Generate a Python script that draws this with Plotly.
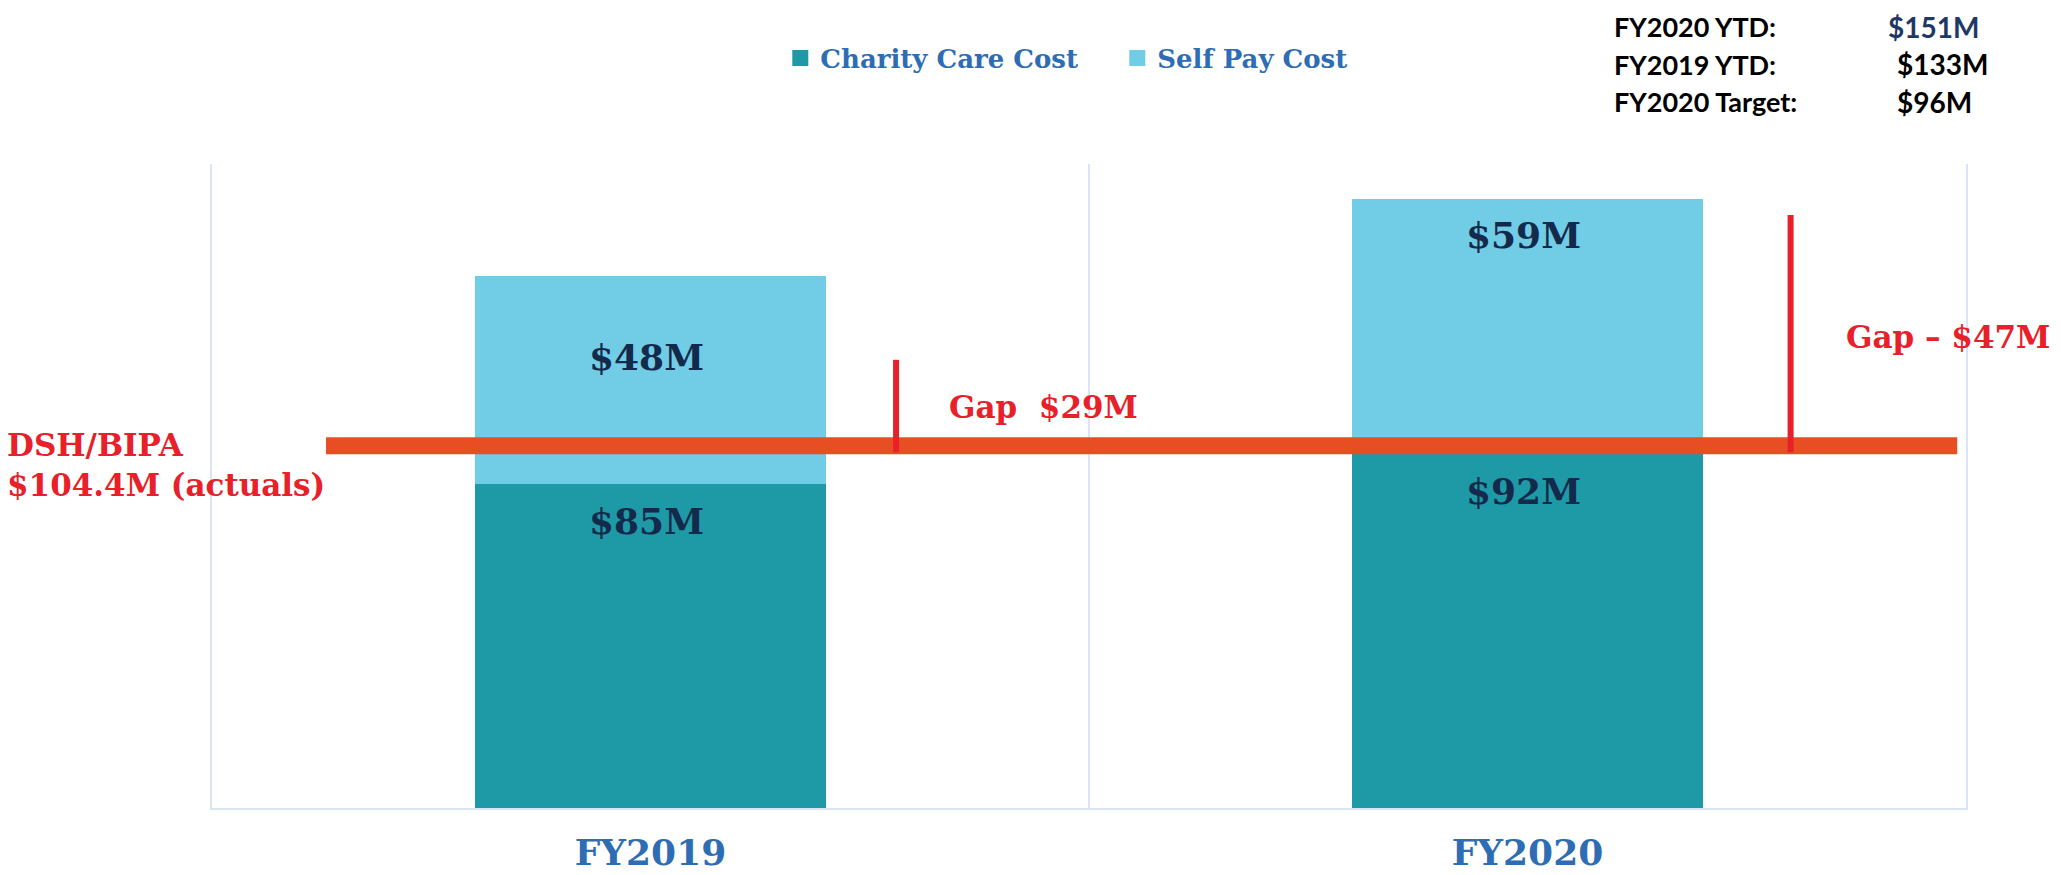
import plotly.graph_objects as go

# values ($M)
years = ["FY2019", "FY2020"]
charity_care = [85, 92]
self_pay = [48, 59]
dsh_bipa_actual = 104.4
dsh_line_level = 93.8          # where the hand-drawn DSH/BIPA line sits on the axis
gap_marker_x = [0.28, 1.30]    # red gap markers (category units)
gap_marker_top = [113.7, 147.2]
fy2020_target = 96

totals = [c + s for c, s in zip(charity_care, self_pay)]
gaps = [round(t - dsh_bipa_actual) for t in totals]

SERIF = "DejaVu Serif"
TEAL = "#1e9aa6"
LIGHT = "#70cde5"
BLUE = "#2e6db4"
NAVY = "#142a4c"
RED = "#e8202a"
ORANGE = "#e84e24"
GRID = "#d9e5f5"

fig = go.Figure()
fig.add_trace(go.Bar(x=years, y=charity_care, name="Charity Care Cost", showlegend=False,
                     marker=dict(color=TEAL, line_width=0)))
fig.add_trace(go.Bar(x=years, y=self_pay, name="Self Pay Cost", showlegend=False,
                     marker=dict(color=LIGHT, line_width=0)))
# legend entries with larger square swatches
for name, col in [("Charity Care Cost", TEAL), ("Self Pay Cost", LIGHT)]:
    fig.add_trace(go.Scatter(x=[None], y=[None], mode="markers", name=name,
                             marker=dict(symbol="square", size=16, color=col)))

# value labels inside the segments
label_drop = {"charity": [37, 37], "self": [81, 36]}
for i, yr in enumerate(years):
    segs = [("charity", 0, charity_care[i]), ("self", charity_care[i], self_pay[i])]
    for key, base, val in segs:
        fig.add_annotation(x=yr, y=base + val, text=f"${val}M", showarrow=False,
                           yanchor="middle", yshift=-label_drop[key][i], xshift=-4,
                           font=dict(family=SERIF, size=36, color=NAVY, weight="bold"))

# DSH/BIPA line and gap markers
fig.add_shape(type="line", xref="x", yref="y", x0=-0.37, x1=1.49,
              y0=dsh_line_level, y1=dsh_line_level,
              line=dict(color=ORANGE, width=17))
for gx, gt in zip(gap_marker_x, gap_marker_top):
    fig.add_shape(type="line", xref="x", yref="y", x0=gx, x1=gx,
                  y0=dsh_line_level - 1.5, y1=gt, line=dict(color=RED, width=6))

red_font = dict(family=SERIF, size=31, color=RED, weight="bold")
fig.add_annotation(x=0.448, y=102.8, xref="x", yref="y", text=f"Gap&nbsp;&nbsp;${gaps[0]}M",
                   showarrow=False, font=red_font)
fig.add_annotation(x=1.479, y=119, xref="x", yref="y", text=f"Gap \u2013 ${gaps[1]}M",
                   showarrow=False, font=red_font)
fig.add_annotation(x=-0.118, xref="paper", y=dsh_line_level, yref="y",
                   text=f"DSH/BIPA<br>${dsh_bipa_actual}M (actuals)", showarrow=False,
                   xanchor="left", yanchor="top", yshift=21, align="left",
                   font=dict(family=SERIF, size=31, color=RED, weight="bold"))

# summary box, top right
summary = [("FY2020 YTD:", f"${totals[1]}M", "#1f3864", 0.9544),
           ("FY2019 YTD:", f"${totals[0]}M", "black", 0.9595),
           ("FY2020 Target:", f"${fy2020_target}M", "black", 0.9595)]
for (lab, val, col, vx), py in zip(summary, [1.213, 1.155, 1.097]):
    fig.add_annotation(x=0.7982, y=py, xref="paper", yref="paper", text=lab,
                       showarrow=False, xanchor="left", yanchor="middle",
                       font=dict(family="Lato", size=27, color="black", weight="bold"))
    fig.add_annotation(x=vx, y=py, xref="paper", yref="paper", text=val,
                       showarrow=False, xanchor="left", yanchor="middle",
                       font=dict(family="Lato", size=28, color=col, weight="bold"))

# the page body has an 8px margin, so the figure is 8px smaller than the window
fig.update_layout(
    barmode="stack", bargap=0.6,
    width=2053, height=867, autosize=False,
    margin=dict(l=204, r=95, t=156, b=67, autoexpand=False),
    plot_bgcolor="white", paper_bgcolor="white",
    showlegend=True,
    legend=dict(orientation="h", x=0.324, xanchor="left", y=1.1646, yanchor="middle",
                traceorder="normal", entrywidth=292,
                font=dict(family=SERIF, size=26, color=BLUE, weight="bold")),
    xaxis=dict(type="category", range=[-0.5, 1.5], tickson="boundaries", showgrid=True,
               gridcolor=GRID, gridwidth=2, ticks="", showline=True, linecolor=GRID,
               linewidth=2, ticklabelstandoff=12,
               tickfont=dict(family=SERIF, size=36, color=BLUE, weight="bold")),
    yaxis=dict(range=[10, 159], showgrid=False, showticklabels=False, zeroline=False,
               showline=True, mirror=True, linecolor=GRID, linewidth=2),
)

fig.write_html("out.html")
